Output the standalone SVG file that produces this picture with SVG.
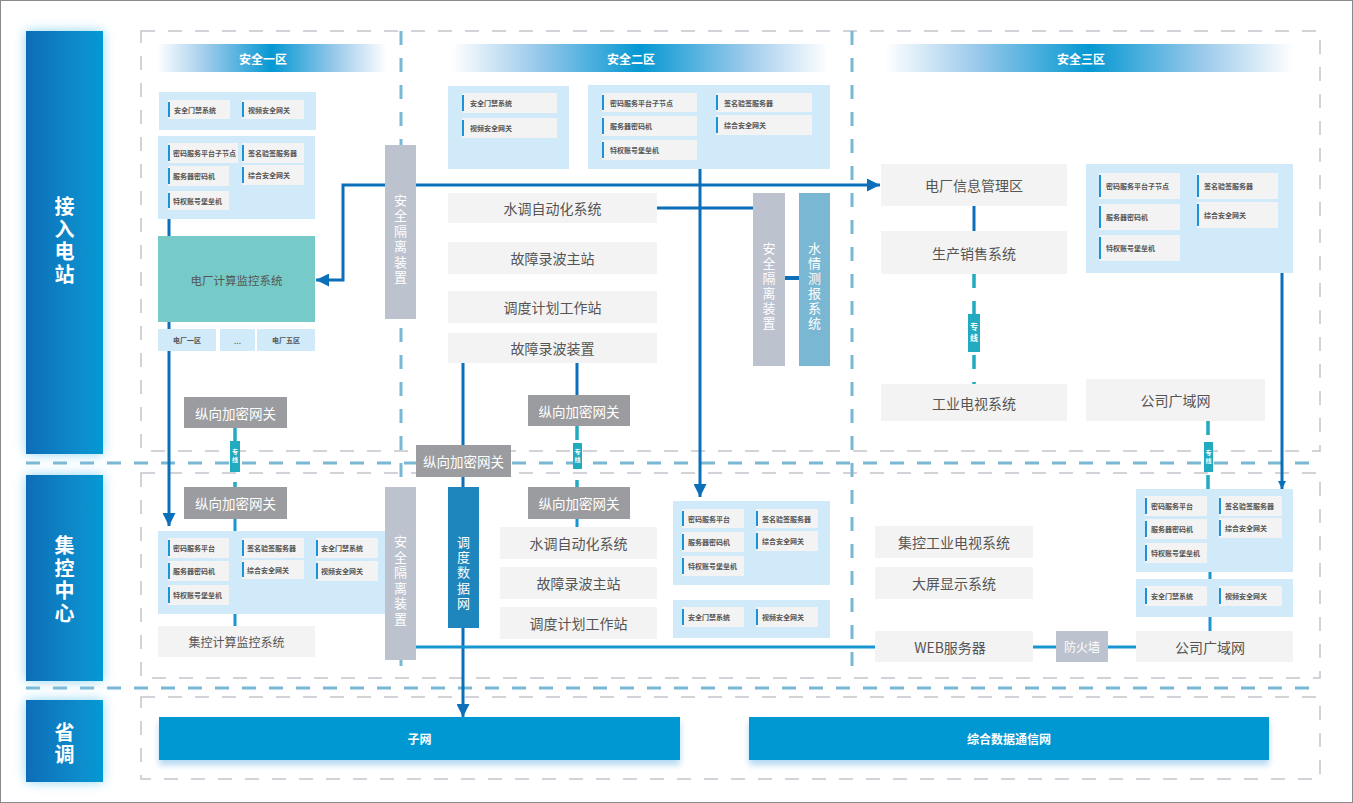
<svg xmlns="http://www.w3.org/2000/svg" width="1353" height="803" viewBox="0 0 1353 803">
<style>
text{font-family:"Noto Sans CJK SC","Noto Sans",sans-serif}
.gd{fill:none;stroke:#c4c4cc;stroke-width:1.5;stroke-dasharray:14 13}
.bd{fill:none;stroke:#7ab7d3;stroke-width:3;stroke-dasharray:14 13}
.panel{fill:#d0eaf9}
.it{fill:#f3f3f3}
.acc{fill:#1b93d9}
.itt{font-size:7px;font-weight:bold;fill:#555;dominant-baseline:central}
.box{fill:#f3f3f3}
.bt{font-size:14px;fill:#555;text-anchor:middle;dominant-baseline:central}
.gw{fill:#9b9ca0}
.gwt{font-size:13.5px;fill:#fff;text-anchor:middle;dominant-baseline:central}
.iso{fill:#bcc2ce}
.v{writing-mode:vertical-rl;text-anchor:middle}
.vt{font-size:13px;fill:#fff;letter-spacing:2.5px}
.tag{fill:#22abc0}
.tagt{font-size:6px;font-weight:bold;fill:#fff;letter-spacing:2px}
.lbl{fill:url(#lg)}
.lt{font-size:20px;font-weight:bold;fill:#fff;letter-spacing:2.5px}
.hd{fill:url(#hg)}
.ht{font-size:12px;font-weight:bold;fill:#fff;text-anchor:middle;dominant-baseline:central}
.dk{fill:none;stroke:#0b6fb9;stroke-width:3}
.lb{fill:none;stroke:#1796d3;stroke-width:3}
.td{fill:none;stroke:#22abc0;stroke-width:3.5;stroke-dasharray:14 13}
.sn{fill:#0598d2}
.snt{font-size:12px;font-weight:bold;fill:#fff;text-anchor:middle;dominant-baseline:central}
.pz{fill:#d0eaf9}
.pzt{font-size:7px;font-weight:bold;fill:#555;text-anchor:middle;dominant-baseline:central}
</style>
<defs>
<linearGradient id="lg" x1="0" y1="0" x2="1" y2="0">
<stop offset="0" stop-color="#0a6db7"/><stop offset="1" stop-color="#069ad5"/>
</linearGradient>
<linearGradient id="hg" x1="0" y1="0" x2="1" y2="0">
<stop offset="0" stop-color="#ffffff"/><stop offset="0.22" stop-color="#9ccaeb"/><stop offset="0.5" stop-color="#0598d2"/><stop offset="0.78" stop-color="#9ccaeb"/><stop offset="1" stop-color="#ffffff"/>
</linearGradient>
<filter id="glow" x="-40%" y="-15%" width="180%" height="130%">
<feFlood flood-color="#8ed6f6" result="f"/>
<feComposite in="f" in2="SourceAlpha" operator="in" result="c"/>
<feGaussianBlur in="c" stdDeviation="6" result="b"/>
<feMerge><feMergeNode in="b"/><feMergeNode in="SourceGraphic"/></feMerge>
</filter>
<filter id="sh" x="-10%" y="-20%" width="120%" height="160%">
<feFlood flood-color="#b3d8f2" result="f"/>
<feComposite in="f" in2="SourceAlpha" operator="in" result="c"/>
<feGaussianBlur in="c" stdDeviation="3"/>
<feOffset dy="5" result="o"/>
<feMerge><feMergeNode in="o"/><feMergeNode in="SourceGraphic"/></feMerge>
</filter>
<marker id="ar" markerUnits="userSpaceOnUse" markerWidth="13" markerHeight="13" refX="13" refY="6.5" orient="auto-start-reverse">
<path d="M0,0 L13,6.5 L0,13 z" fill="#0b6fb9"/>
</marker>
<marker id="ars" markerUnits="userSpaceOnUse" markerWidth="8" markerHeight="8" refX="8" refY="4" orient="auto">
<path d="M0,0 L8,4 L0,8 z" fill="#0b6fb9"/>
</marker>
</defs>
<rect x="0.5" y="0.5" width="1352" height="802" fill="#fff" stroke="#8a8a8a"/>

<g id="zones">
<rect class="gd" x="141" y="31" width="1179" height="420"/>
<rect class="gd" x="141" y="473" width="1179" height="205"/>
<rect class="gd" x="141" y="697" width="1179" height="82"/>
<line class="bd" x1="26" y1="463" x2="1320" y2="463"/>
<line class="bd" x1="26" y1="688" x2="1320" y2="688"/>
<line class="bd" x1="401" y1="31" x2="401" y2="678"/>
<line class="bd" x1="852" y1="31" x2="852" y2="678"/>
</g>

<g id="row-labels">
<g id="lbl-jrdz"><rect class="lbl" x="26" y="31" width="77" height="423" filter="url(#glow)"/>
<text class="v lt" x="64.5" y="241.5">接入电站</text></g>
<g id="lbl-jkzx"><rect class="lbl" x="26" y="475" width="77" height="206" filter="url(#glow)"/>
<text class="v lt" x="64.5" y="580.5">集控中心</text></g>
<g id="lbl-sd"><rect class="lbl" x="26" y="700" width="77" height="82" filter="url(#glow)"/>
<text class="v lt" x="64.5" y="744.5">省调</text></g>
</g>

<g id="headers">
<g id="hdr1"><rect class="hd" x="157" y="44" width="230" height="28"/><text class="ht" x="263" y="58">安全一区</text></g>
<g id="hdr2"><rect class="hd" x="452" y="44" width="376" height="28"/><text class="ht" x="631" y="58">安全二区</text></g>
<g id="hdr3"><rect class="hd" x="885" y="44" width="408" height="28"/><text class="ht" x="1081" y="58">安全三区</text></g>
</g>

<g id="connectors">
<path class="dk" d="M169,219 V526" marker-end="url(#ar)"/>
<path class="dk" d="M316,280 H343 V185 H880" marker-start="url(#ar)" marker-end="url(#ar)"/>
<path class="dk" d="M700,169 V497" marker-end="url(#ar)"/>
<path class="dk" d="M657,208 H753"/>
<path class="dk" d="M785,278 H799" style="stroke-width:4"/>
<path class="dk" d="M463,363 V717" marker-end="url(#ar)"/>
<path class="dk" d="M577,363 V395"/>
<path class="dk" d="M974,206 V231"/>
<path class="dk" d="M1282,273 V489" marker-end="url(#ars)"/>
<path class="lb" d="M235,519 V531"/>
<path class="lb" d="M235,614 V626"/>
<path class="lb" d="M577,519 V527"/>
<path class="lb" d="M416,647 H875"/>
<path class="lb" d="M1033,647 H1056"/>
<path class="lb" d="M1108,647 H1136"/>
<path class="lb" d="M1210,572 V579"/>
<path class="lb" d="M1210,617 V631"/>
<path class="td" d="M235,428 V487"/>
<path class="td" d="M577,426 V487"/>
<path class="td" d="M974,274 V384"/>
<path class="td" d="M1208,421 V489"/>
</g>

<g id="z1-panel1"><rect class="panel" x="159" y="92" width="157" height="38"/>
<rect class="it" x="168" y="100" width="62" height="19"/><rect class="acc" x="168" y="102" width="2" height="15"/><text class="itt" x="174" y="109.5">安全门禁系统</text>
<rect class="it" x="242" y="100" width="62" height="19"/><rect class="acc" x="242" y="102" width="2" height="15"/><text class="itt" x="248" y="109.5">视频安全网关</text>
</g>
<g id="z1-panel2"><rect class="panel" x="158" y="136" width="157" height="83"/>
<rect class="it" x="168" y="143" width="70" height="20"/><rect class="acc" x="168" y="145" width="2" height="16"/><text class="itt" x="173" y="153">密码服务平台子节点</text>
<rect class="it" x="242" y="143" width="62" height="20"/><rect class="acc" x="242" y="145" width="2" height="16"/><text class="itt" x="248" y="153">签名验签服务器</text>
<rect class="it" x="168" y="166" width="61" height="20"/><rect class="acc" x="168" y="168" width="2" height="16"/><text class="itt" x="173" y="176">服务器密码机</text>
<rect class="it" x="242" y="165" width="62" height="20"/><rect class="acc" x="242" y="167" width="2" height="16"/><text class="itt" x="248" y="175">综合安全网关</text>
<rect class="it" x="168" y="191" width="61" height="19"/><rect class="acc" x="168" y="193" width="2" height="15"/><text class="itt" x="173" y="200.5">特权账号堡垒机</text>
</g>
<g id="dc-jkxt"><rect x="158" y="236" width="157" height="86" fill="#76cbc8"/><text class="bt" x="236.5" y="280" style="font-size:11.5px">电厂计算监控系统</text></g>
<g id="dc-zones">
<rect class="pz" x="158" y="329" width="58" height="22"/><text class="pzt" x="187" y="340">电厂一区</text>
<rect class="pz" x="220" y="329" width="35" height="22"/><text class="pzt" x="237.5" y="341">...</text>
<rect class="pz" x="257" y="329" width="58" height="22"/><text class="pzt" x="286" y="340">电厂五区</text>
</g>
<g id="iso1"><rect class="iso" x="385" y="145" width="31" height="174"/>
<text class="v vt" x="400.5" y="240">安全隔离装置</text></g>

<g id="z2-panelL"><rect class="panel" x="448" y="86" width="121" height="83"/>
<rect class="it" x="462" y="93" width="95" height="20"/><rect class="acc" x="462" y="95" width="2" height="16"/><text class="itt" x="470" y="103">安全门禁系统</text>
<rect class="it" x="462" y="118" width="95" height="20"/><rect class="acc" x="462" y="120" width="2" height="16"/><text class="itt" x="470" y="128">视频安全网关</text>
</g>
<g id="z2-panelR"><rect class="panel" x="588" y="85" width="242" height="84"/>
<rect class="it" x="602" y="93" width="95" height="19"/><rect class="acc" x="602" y="95" width="2" height="15"/><text class="itt" x="610" y="102.5">密码服务平台子节点</text>
<rect class="it" x="602" y="116" width="95" height="20"/><rect class="acc" x="602" y="118" width="2" height="16"/><text class="itt" x="610" y="126">服务器密码机</text>
<rect class="it" x="602" y="140" width="95" height="20"/><rect class="acc" x="602" y="142" width="2" height="16"/><text class="itt" x="610" y="150">特权账号堡垒机</text>
<rect class="it" x="716" y="93" width="96" height="19"/><rect class="acc" x="716" y="95" width="2" height="15"/><text class="itt" x="724" y="102.5">签名验签服务器</text>
<rect class="it" x="716" y="115" width="96" height="20"/><rect class="acc" x="716" y="117" width="2" height="16"/><text class="itt" x="724" y="125">综合安全网关</text>
</g>
<g id="z2-sdzdh"><rect class="box" x="448" y="193" width="209" height="30"/><text class="bt" x="552.5" y="208">水调自动化系统</text></g>
<g id="z2-gzlbzz"><rect class="box" x="448" y="242" width="209" height="32"/><text class="bt" x="552.5" y="258">故障录波主站</text></g>
<g id="z2-ddjh"><rect class="box" x="448" y="291" width="209" height="32"/><text class="bt" x="552.5" y="307">调度计划工作站</text></g>
<g id="z2-gzlbzzz"><rect class="box" x="448" y="333" width="209" height="30"/><text class="bt" x="552.5" y="348">故障录波装置</text></g>
<g id="iso2"><rect class="iso" x="753" y="193" width="32" height="173"/>
<text class="v vt" x="769" y="287" style="letter-spacing:2px">安全隔离装置</text></g>
<g id="sqcb"><rect x="799" y="193" width="31" height="173" fill="#7ab7d3"/>
<text class="v vt" x="814.5" y="287" style="letter-spacing:2px">水情测报系统</text></g>

<g id="z3-dcxx"><rect class="box" x="881" y="164" width="186" height="42"/><text class="bt" x="974" y="185">电厂信息管理区</text></g>
<g id="z3-scxs"><rect class="box" x="881" y="231" width="186" height="43"/><text class="bt" x="974" y="252.5">生产销售系统</text></g>
<g id="z3-gyds"><rect class="box" x="881" y="384" width="186" height="37"/><text class="bt" x="974" y="402.5">工业电视系统</text></g>
<g id="z3-gsgyw"><rect class="box" x="1086" y="379" width="179" height="42"/><text class="bt" x="1175.5" y="400">公司广域网</text></g>
<g id="z3-panel"><rect class="panel" x="1086" y="164" width="207" height="109"/>
<rect class="it" x="1099" y="173" width="81" height="26"/><rect class="acc" x="1099" y="175" width="2" height="22"/><text class="itt" x="1106" y="186">密码服务平台子节点</text>
<rect class="it" x="1099" y="204" width="81" height="26"/><rect class="acc" x="1099" y="206" width="2" height="22"/><text class="itt" x="1106" y="217">服务器密码机</text>
<rect class="it" x="1099" y="235" width="81" height="26"/><rect class="acc" x="1099" y="237" width="2" height="22"/><text class="itt" x="1106" y="248">特权账号堡垒机</text>
<rect class="it" x="1197" y="173" width="81" height="26"/><rect class="acc" x="1197" y="175" width="2" height="22"/><text class="itt" x="1204" y="186">签名验签服务器</text>
<rect class="it" x="1197" y="202" width="81" height="26"/><rect class="acc" x="1197" y="204" width="2" height="22"/><text class="itt" x="1204" y="215">综合安全网关</text>
</g>

<g id="gw1"><rect class="gw" x="184" y="397" width="103" height="31"/><text class="gwt" x="235.5" y="412.5">纵向加密网关</text></g>
<g id="gw2"><rect class="gw" x="184" y="487" width="103" height="32"/><text class="gwt" x="235.5" y="503">纵向加密网关</text></g>
<g id="gw3"><rect class="gw" x="528" y="395" width="102" height="31"/><text class="gwt" x="579" y="410.5">纵向加密网关</text></g>
<g id="gw4"><rect class="gw" x="528" y="487" width="102" height="32"/><text class="gwt" x="579" y="503">纵向加密网关</text></g>
<g id="gw5"><rect class="gw" x="416" y="445" width="95" height="32"/><text class="gwt" x="463.5" y="461">纵向加密网关</text></g>

<g id="tag1"><rect class="tag" x="230" y="441" width="10" height="31"/><text class="v tagt" x="235" y="457">专线</text></g>
<g id="tag2"><rect class="tag" x="573" y="443" width="9" height="26"/><text class="v tagt" x="577.5" y="457">专线</text></g>
<g id="tag3"><rect class="tag" x="968" y="314" width="12" height="38"/><text class="v tagt" x="974" y="334" style="font-size:8px;letter-spacing:3.5px">专线</text></g>
<g id="tag4"><rect class="tag" x="1204" y="442" width="9" height="30"/><text class="v tagt" x="1208.5" y="458">专线</text></g>

<g id="m1-panel"><rect class="panel" x="158" y="531" width="227" height="83"/>
<rect class="it" x="168" y="538" width="61" height="20"/><rect class="acc" x="168" y="540" width="2" height="16"/><text class="itt" x="173" y="548">密码服务平台</text>
<rect class="it" x="168" y="561" width="61" height="20"/><rect class="acc" x="168" y="563" width="2" height="16"/><text class="itt" x="173" y="571">服务器密码机</text>
<rect class="it" x="168" y="585" width="61" height="20"/><rect class="acc" x="168" y="587" width="2" height="16"/><text class="itt" x="173" y="595">特权账号堡垒机</text>
<rect class="it" x="242" y="538" width="62" height="20"/><rect class="acc" x="242" y="540" width="2" height="16"/><text class="itt" x="247" y="548">签名验签服务器</text>
<rect class="it" x="242" y="560" width="62" height="19"/><rect class="acc" x="242" y="562" width="2" height="15"/><text class="itt" x="247" y="569.5">综合安全网关</text>
<rect class="it" x="316" y="538" width="62" height="20"/><rect class="acc" x="316" y="540" width="2" height="16"/><text class="itt" x="321" y="548">安全门禁系统</text>
<rect class="it" x="316" y="561" width="62" height="20"/><rect class="acc" x="316" y="563" width="2" height="16"/><text class="itt" x="321" y="571">视频安全网关</text>
</g>
<g id="m1-jkjs"><rect class="box" x="158" y="626" width="157" height="31"/><text class="bt" x="236.5" y="641.5" style="font-size:12px">集控计算监控系统</text></g>
<g id="iso3"><rect class="iso" x="385" y="487" width="31" height="173"/>
<text class="v vt" x="400.5" y="581.5">安全隔离装置</text></g>
<g id="ddsjw"><rect x="448" y="487" width="31" height="141" fill="#1e86bc"/>
<text class="v vt" x="463.5" y="573.5" style="letter-spacing:2.25px">调度数据网</text></g>

<g id="m2-sdzdh"><rect class="box" x="500" y="527" width="157" height="32"/><text class="bt" x="578.5" y="543">水调自动化系统</text></g>
<g id="m2-gzlb"><rect class="box" x="500" y="567" width="157" height="32"/><text class="bt" x="578.5" y="583">故障录波主站</text></g>
<g id="m2-ddjh"><rect class="box" x="500" y="607" width="157" height="32"/><text class="bt" x="578.5" y="623">调度计划工作站</text></g>
<g id="m2-panelA"><rect class="panel" x="673" y="501" width="157" height="84"/>
<rect class="it" x="682" y="509" width="62" height="19"/><rect class="acc" x="682" y="511" width="2" height="15"/><text class="itt" x="688" y="518.5">密码服务平台</text>
<rect class="it" x="682" y="532" width="62" height="20"/><rect class="acc" x="682" y="534" width="2" height="16"/><text class="itt" x="688" y="542">服务器密码机</text>
<rect class="it" x="682" y="556" width="62" height="20"/><rect class="acc" x="682" y="558" width="2" height="16"/><text class="itt" x="688" y="566">特权账号堡垒机</text>
<rect class="it" x="756" y="509" width="62" height="19"/><rect class="acc" x="756" y="511" width="2" height="15"/><text class="itt" x="762" y="518.5">签名验签服务器</text>
<rect class="it" x="756" y="531" width="62" height="20"/><rect class="acc" x="756" y="533" width="2" height="16"/><text class="itt" x="762" y="541">综合安全网关</text>
</g>
<g id="m2-panelB"><rect class="panel" x="673" y="600" width="157" height="38"/>
<rect class="it" x="682" y="607" width="62" height="20"/><rect class="acc" x="682" y="609" width="2" height="16"/><text class="itt" x="688" y="617">安全门禁系统</text>
<rect class="it" x="756" y="607" width="62" height="20"/><rect class="acc" x="756" y="609" width="2" height="16"/><text class="itt" x="762" y="617">视频安全网关</text>
</g>

<g id="m3-jkgy"><rect class="box" x="875" y="526" width="158" height="32"/><text class="bt" x="954" y="542">集控工业电视系统</text></g>
<g id="m3-dpxs"><rect class="box" x="875" y="567" width="158" height="32"/><text class="bt" x="954" y="583">大屏显示系统</text></g>
<g id="m3-web"><rect class="box" x="875" y="631" width="158" height="31"/><text class="bt" x="950" y="646.5">WEB服务器</text></g>
<g id="m3-fhq"><rect class="iso" x="1056" y="631" width="52" height="31"/><text class="gwt" x="1082" y="646.5" style="font-size:12px">防火墙</text></g>
<g id="m3-gsgyw"><rect class="box" x="1136" y="631" width="157" height="31"/><text class="bt" x="1210" y="646.5">公司广域网</text></g>
<g id="m3-panelA"><rect class="panel" x="1136" y="489" width="157" height="83"/>
<rect class="it" x="1145" y="496" width="62" height="20"/><rect class="acc" x="1145" y="498" width="2" height="16"/><text class="itt" x="1151" y="506">密码服务平台</text>
<rect class="it" x="1145" y="519" width="62" height="20"/><rect class="acc" x="1145" y="521" width="2" height="16"/><text class="itt" x="1151" y="529">服务器密码机</text>
<rect class="it" x="1145" y="543" width="62" height="20"/><rect class="acc" x="1145" y="545" width="2" height="16"/><text class="itt" x="1151" y="553">特权账号堡垒机</text>
<rect class="it" x="1219" y="496" width="63" height="20"/><rect class="acc" x="1219" y="498" width="2" height="16"/><text class="itt" x="1225" y="506">签名验签服务器</text>
<rect class="it" x="1219" y="518" width="63" height="20"/><rect class="acc" x="1219" y="520" width="2" height="16"/><text class="itt" x="1225" y="528">综合安全网关</text>
</g>
<g id="m3-panelB"><rect class="panel" x="1136" y="579" width="157" height="38"/>
<rect class="it" x="1145" y="586" width="62" height="20"/><rect class="acc" x="1145" y="588" width="2" height="16"/><text class="itt" x="1151" y="596">安全门禁系统</text>
<rect class="it" x="1219" y="586" width="63" height="20"/><rect class="acc" x="1219" y="588" width="2" height="16"/><text class="itt" x="1225" y="596">视频安全网关</text>
</g>

<g id="subnet"><rect class="sn" x="159" y="717" width="521" height="43" filter="url(#sh)"/><text class="snt" x="419.5" y="738.5">子网</text></g>
<g id="zhsjtxw"><rect class="sn" x="749" y="717" width="520" height="43" filter="url(#sh)"/><text class="snt" x="1009" y="738.5">综合数据通信网</text></g>
</svg>
